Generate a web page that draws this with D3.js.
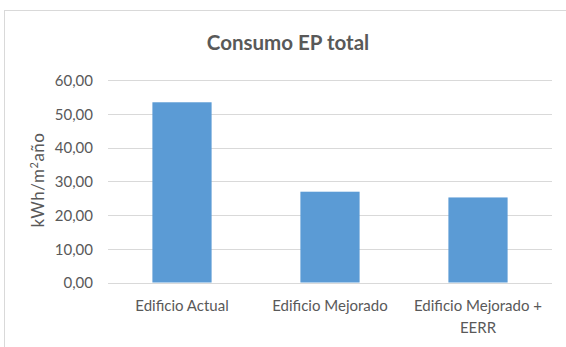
<!DOCTYPE html>
<html><head><meta charset="utf-8">
<script src="https://cdn.jsdelivr.net/npm/d3@7"></script>
<style>body{margin:0;background:#fff;} text{font-family:Lato, "Open Sans", sans-serif;}</style>
</head><body>
<svg id="c" width="566" height="347"></svg>
<script>
const categories = [["Edificio Actual"], ["Edificio Mejorado"], ["Edificio Mejorado +", "EERR"]];
const values = [53.4, 26.9, 25.2];
const tickValues = [0, 10, 20, 30, 40, 50, 60];
const title = "Consumo EP total";

const svg = d3.select("#c");
svg.append("rect").attr("x", 4.5).attr("y", 10.5).attr("width", 600).attr("height", 400)
  .attr("fill", "#fff").attr("stroke", "#D9D9D9").attr("stroke-width", 1);

const x = d3.scaleBand().domain(d3.range(categories.length)).range([108, 552]).padding(0);
const y = d3.scaleLinear().domain([0, 60]).range([282.5, 80]);

const fmt = d => d3.format(".2f")(d).replace(".", ",");

const yAxis = d3.axisLeft(y).tickValues(tickValues).tickSize(-(552 - 108)).tickFormat(fmt).tickPadding(15);
const gy = svg.append("g").attr("transform", "translate(108,0)").call(yAxis);
gy.select(".domain").remove();
gy.selectAll("line").attr("stroke", "#D9D9D9").attr("shape-rendering", "crispEdges");
gy.selectAll("text").attr("fill", "#595959").style("font-size", "15px").attr("dy", "0.35em");

const bw = x.bandwidth() * 0.4;
svg.append("g").selectAll("rect").data(values).join("rect")
  .attr("x", (d, i) => x(i) + (x.bandwidth() - bw) / 2)
  .attr("y", d => y(d))
  .attr("width", bw)
  .attr("height", d => y(0) - y(d))
  .attr("fill", "#5B9BD5");

const gx = svg.append("g");
categories.forEach((lines, i) => {
  const cx = x(i) + x.bandwidth() / 2;
  const t = gx.append("text").attr("text-anchor", "middle").attr("fill", "#595959").style("font-size", "15px")
    .attr("x", cx).attr("y", 311);
  lines.forEach((l, j) => t.append("tspan").attr("x", cx).attr("dy", j ? 22 : 0).text(l));
});

svg.append("text").attr("x", 288).attr("y", 50).attr("text-anchor", "middle")
  .attr("fill", "#595959").style("font-size", "20.5px").style("font-weight", "bold").text(title);

const yl = svg.append("text").attr("transform", "translate(44,180) rotate(-90)").attr("text-anchor", "middle")
  .attr("fill", "#595959").style("font-size", "17px").style("letter-spacing", "0.5px");
yl.append("tspan").text("kWh/m");
yl.append("tspan").attr("dy", -6).style("font-size", "11px").text("2");
yl.append("tspan").attr("dy", 6).text("año");
</script>
</body></html>
